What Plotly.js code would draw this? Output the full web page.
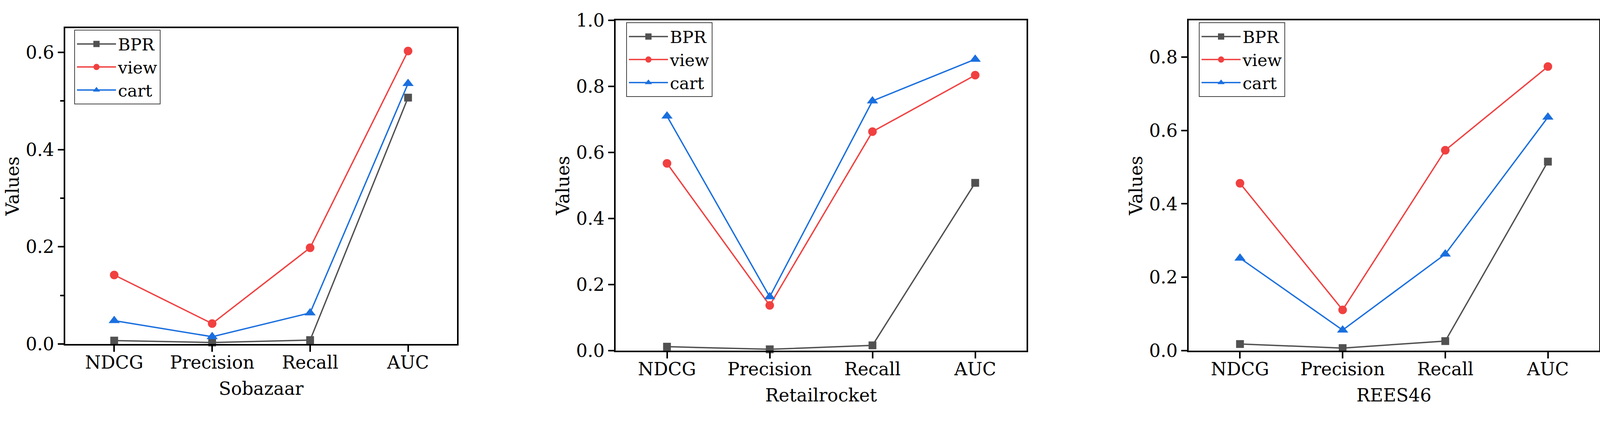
<!DOCTYPE html>
<html>
<head>
<meta charset="utf-8">
<script src="https://cdn.plot.ly/plotly-3.0.1.min.js"></script>
<style>
  html, body { margin: 0; padding: 0; background: #fff; }
  #chart { width: 4120px; height: 1077px; }
</style>
</head>
<body>
<div id="chart"></div>
<script>
// categories shared by all three panels
var metrics = ['NDCG', 'Precision', 'Recall', 'AUC'];
var seriesNames = ['BPR', 'view', 'cart'];
var datasetNames = ['Sobazaar', 'Retailrocket', 'REES46'];

// values
var sobazaarBPR  = [0.007, 0.003, 0.008, 0.507];
var sobazaarView = [0.142, 0.042, 0.198, 0.603];
var sobazaarCart = [0.048, 0.015, 0.064, 0.536];

var retailBPR  = [0.012, 0.004, 0.016, 0.508];
var retailView = [0.567, 0.137, 0.663, 0.834];
var retailCart = [0.710, 0.163, 0.756, 0.882];

var reesBPR  = [0.018, 0.007, 0.026, 0.515];
var reesView = [0.456, 0.111, 0.546, 0.774];
var reesCart = [0.252, 0.056, 0.263, 0.636];

var yMax = [0.65, 1.0, 0.9];

var colors = ['#515151', '#F14040', '#1A6FDF'];
var symbols = ['square', 'circle', 'triangle-up'];
var sizes = [20, 22, 25];
var font = {family: '"DejaVu Serif", "Liberation Serif", serif', size: 46, color: '#000'};
var legendFont = {family: font.family, size: 43, color: '#000'};

var panels = [
  [sobazaarBPR, sobazaarView, sobazaarCart],
  [retailBPR, retailView, retailCart],
  [reesBPR, reesView, reesCart]
];

var traces = [];
panels.forEach(function (set, p) {
  var ax = p === 0 ? '' : String(p + 1);
  set.forEach(function (vals, s) {
    traces.push({
      x: metrics,
      y: vals,
      name: seriesNames[s],
      type: 'scatter',
      mode: 'lines+markers',
      xaxis: 'x' + ax,
      yaxis: 'y' + ax,
      legend: 'legend' + ax,
      line: {color: colors[s], width: 3.5},
      marker: {color: colors[s], symbol: symbols[s], size: sizes[s]},
      cliponaxis: false
    });
  });
});

// panel boxes in pixels of the 4120x1077 picture
var W = 4120, H = 1077;
var boxes = [
  {l: 167, r: 1170, t: 72, b: 880},
  {l: 1576, r: 2628, t: 52, b: 897},
  {l: 3043, r: 4094, t: 52, b: 897}
];
var legendPos = [[190, 76], [1603, 57], [3069, 57]];

var layout = {
  width: W, height: H,
  margin: {l: 0, r: 0, t: 0, b: 0},
  paper_bgcolor: '#fff',
  plot_bgcolor: '#fff',
  font: font,
  showlegend: true
};

boxes.forEach(function (b, p) {
  var ax = p === 0 ? '' : String(p + 1);
  var xa = {
    domain: [b.l / W, b.r / W],
    anchor: 'y' + ax,
    type: 'category',
    range: [-0.5, 3.5],
    showline: true, linecolor: '#000', linewidth: 4, mirror: true,
    ticks: 'outside', ticklen: 16, tickwidth: 4, tickcolor: '#000',
    ticklabelstandoff: -12,
    showgrid: false, zeroline: false,
    tickfont: font,
    title: {text: datasetNames[p], font: font, standoff: 26},
    automargin: false
  };
  var ya = {
    domain: [1 - b.b / H, 1 - b.t / H],
    anchor: 'x' + ax,
    range: [0, yMax[p]],
    dtick: 0.2, tick0: 0, tickformat: '.1f',
    showline: true, linecolor: '#000', linewidth: 4, mirror: true,
    ticks: 'outside', ticklen: 15, tickwidth: 4, tickcolor: '#000',
    showgrid: false, zeroline: false,
    tickfont: font,
    title: {text: 'Values', font: font, standoff: 4},
    automargin: false
  };
  if (p === 0) {
    ya.minor = {dtick: 0.1, ticks: 'outside', ticklen: 9, tickwidth: 4, tickcolor: '#000', showgrid: false};
  }
  layout['xaxis' + ax] = xa;
  layout['yaxis' + ax] = ya;
  layout['legend' + ax] = {
    x: legendPos[p][0] / W,
    y: 1 - legendPos[p][1] / H,
    xanchor: 'left', yanchor: 'top',
    bgcolor: '#fff',
    bordercolor: '#444',
    borderwidth: 2,
    font: legendFont,
    tracegroupgap: 0,
    itemwidth: 100
  };
});

Plotly.newPlot('chart', traces, layout, {staticPlot: true});
</script>
</body>
</html>
